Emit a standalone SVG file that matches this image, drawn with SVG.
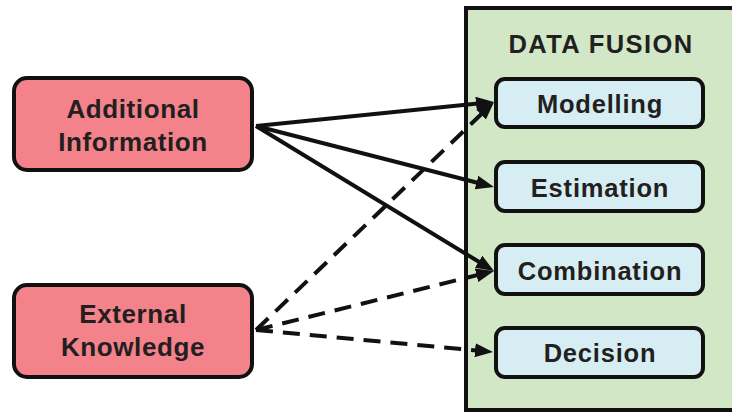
<svg xmlns="http://www.w3.org/2000/svg" width="732" height="412" viewBox="0 0 732 412">
  <defs>
    <style>
      .src rect { fill: #f3828a; stroke: #111; stroke-width: 4; }
      .step rect { fill: #d5edf3; stroke: #111; stroke-width: 4; }
      .panel { fill: #d2e7c6; stroke: #111; stroke-width: 4; }
      text { font-family: "Liberation Sans", Arial, sans-serif; font-weight: bold; fill: #231f20; text-anchor: middle; }
      .src text { font-size: 26px; letter-spacing: 0.6px; }
      .step text { font-size: 25.5px; letter-spacing: 0.8px; }
      .title { font-size: 25.5px; letter-spacing: 1.4px; }
      .link { stroke: #111; stroke-width: 4; fill: none; marker-end: url(#head); }
      .dashed { stroke-dasharray: 17 10; }
    </style>
    <marker id="head" markerUnits="userSpaceOnUse" markerWidth="18" markerHeight="14" refX="7" refY="7" orient="auto">
      <path d="M0,0 L18,7 L0,14 z" fill="#111"/>
    </marker>
  </defs>

  <rect width="732" height="412" fill="#fff"/>

  <!-- fusion panel with its four stages -->
  <g id="data-fusion">
    <rect class="panel" x="466" y="8" width="300" height="402"/>
    <text class="title" x="601" y="53">DATA FUSION</text>
  </g>
  <g id="modelling" class="step">
    <rect x="496" y="79" width="207" height="48" rx="9"/>
    <text x="600" y="113">Modelling</text>
  </g>
  <g id="estimation" class="step">
    <rect x="496" y="162" width="207" height="49" rx="9"/>
    <text x="600" y="197">Estimation</text>
  </g>
  <g id="combination" class="step">
    <rect x="496" y="245" width="207" height="49" rx="9"/>
    <text x="600" y="280">Combination</text>
  </g>
  <g id="decision" class="step">
    <rect x="496" y="328" width="207" height="49" rx="9"/>
    <text x="600" y="362">Decision</text>
  </g>

  <!-- input sources -->
  <g id="additional-information" class="src">
    <rect x="14" y="78" width="238" height="92" rx="13"/>
    <text x="133" y="118">Additional</text>
    <text x="133" y="151">Information</text>
  </g>
  <g id="external-knowledge" class="src">
    <rect x="14" y="285" width="238" height="92" rx="13"/>
    <text x="133" y="323">External</text>
    <text x="133" y="356">Knowledge</text>
  </g>

  <!-- connectors: solid from additional information, dashed from external knowledge -->
  <g id="connectors">
    <line class="link" x1="256" y1="126" x2="483" y2="103.1"/>
    <line class="link" x1="256" y1="126" x2="483.3" y2="184.3"/>
    <line class="link" x1="256" y1="126" x2="484.6" y2="265.3"/>
    <line class="link dashed" x1="256" y1="330" x2="486.1" y2="109.6"/>
    <line class="link dashed" x1="256" y1="330" x2="483.3" y2="273.6"/>
    <line class="link dashed" x1="256" y1="330" x2="482" y2="350.9"/>
  </g>
</svg>
